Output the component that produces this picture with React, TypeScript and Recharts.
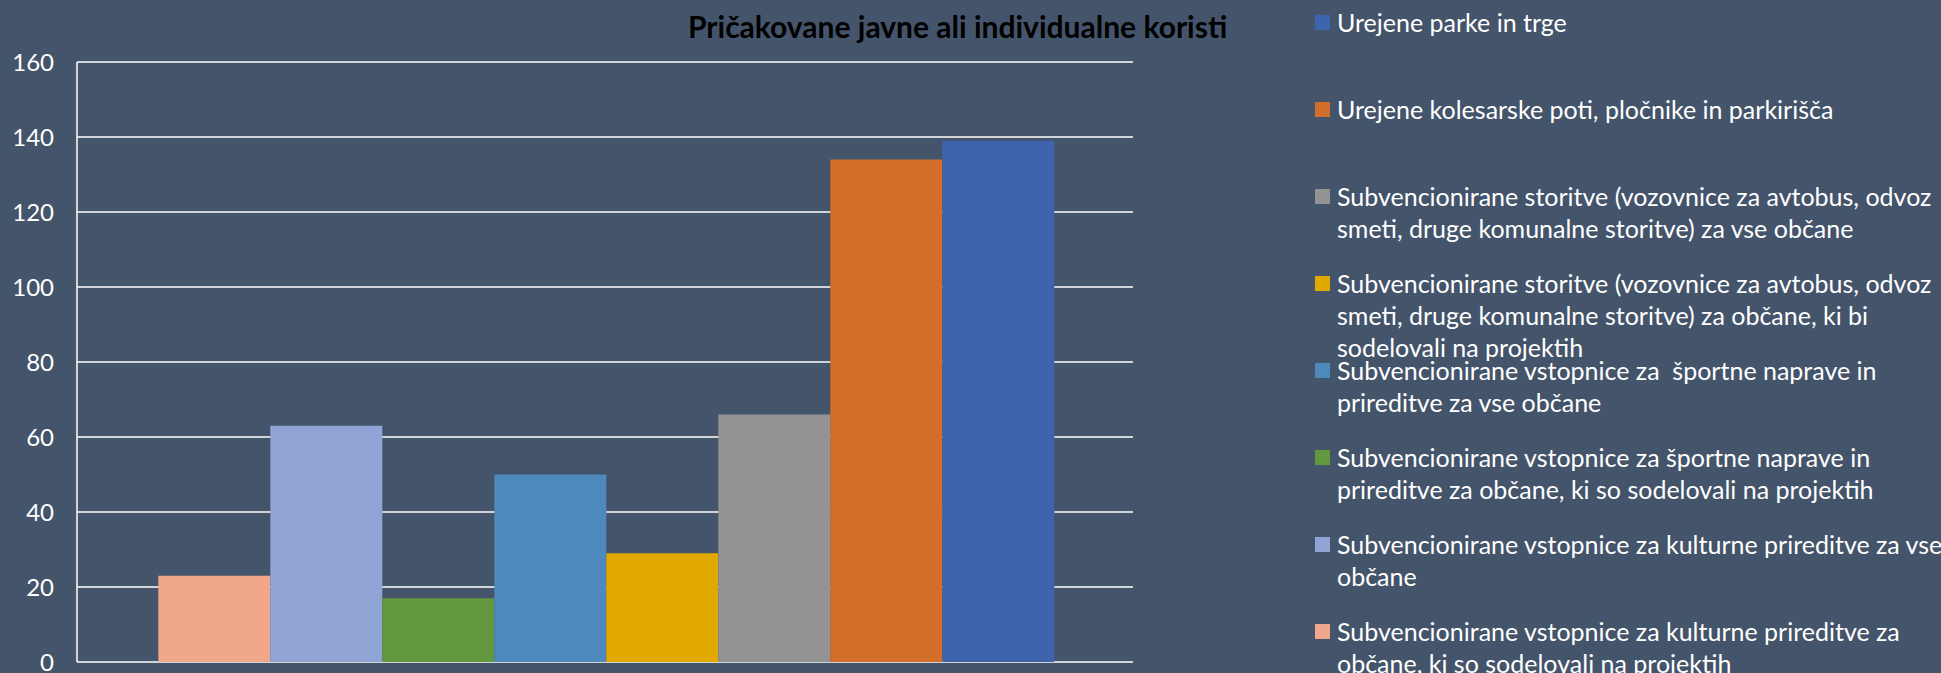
import { BarChart, Bar, XAxis, YAxis, CartesianGrid, Legend } from 'recharts';

const categories = [''];

// series in bar order (left to right)
const seriesKeys = ['s1', 's2', 's3', 's4', 's5', 's6', 's7', 's8'];
const seriesNames = [
  'Subvencionirane vstopnice za kulturne prireditve za\nobčane, ki so sodelovali na projektih',
  'Subvencionirane vstopnice za kulturne prireditve za vse\nobčane',
  'Subvencionirane vstopnice za športne naprave in\nprireditve za občane, ki so sodelovali na projektih',
  'Subvencionirane vstopnice za  športne naprave in\nprireditve za vse občane',
  'Subvencionirane storitve (vozovnice za avtobus, odvoz\nsmeti, druge komunalne storitve) za občane, ki bi\nsodelovali na projektih',
  'Subvencionirane storitve (vozovnice za avtobus, odvoz\nsmeti, druge komunalne storitve) za vse občane',
  'Urejene kolesarske poti, pločnike in parkirišča',
  'Urejene parke in trge',
];
const seriesValues = [23, 63, 17, 50, 29, 66, 134, 139];
const seriesColors = ['#F0A78B', '#90A4D5', '#62993E', '#4E89BD', '#E1A800', '#939393', '#D36E2A', '#3D64AC'];

const yTicks = [0, 20, 40, 60, 80, 100, 120, 140, 160];

const title = 'Pričakovane javne ali individualne koristi';

const data = categories.map((name) => {
  const row: Record<string, string | number> = { name };
  seriesKeys.forEach((k, i) => { row[k] = seriesValues[i]; });
  return row;
});

const FONT = 'Lato, "Open Sans", sans-serif';

function LegendList() {
  // Excel draws the legend in reverse series order
  const items = seriesKeys.map((k, i) => ({ k, name: seriesNames[i], color: seriesColors[i] })).reverse();
  return (
    <div style={{ fontFamily: FONT, fontSize: 25, color: '#fff' }}>
      {items.map(({ k, name, color }) => (
        <div key={k} style={{ height: 87, display: 'flex', alignItems: 'flex-start' }}>
          <div style={{ width: 15, height: 15, background: color, marginTop: 9, marginRight: 7, flexShrink: 0 }} />
          <div style={{ lineHeight: '32px', whiteSpace: 'pre' }}>{name}</div>
        </div>
      ))}
    </div>
  );
}

export default function App() {
  return (
    <div style={{ position: 'absolute', left: 0, top: 0, width: 1941, height: 673, background: '#44546A', overflow: 'hidden' }}>
      <div style={{ position: 'absolute', left: 688, top: 11, lineHeight: '30px', fontFamily: FONT, fontSize: 30, fontWeight: 700, color: '#000', whiteSpace: 'nowrap' }}>
        {title}
      </div>
      <BarChart
        width={1941}
        height={673}
        data={data}
        margin={{ top: 62, right: 182, bottom: 11, left: 17 }}
        barCategoryGap="7.7%"
        barGap={0}
      >
        <CartesianGrid horizontal vertical={false} stroke="#FFFFFF" strokeWidth={1.5} />
        <XAxis dataKey="name" hide />
        <YAxis
          width={60}
          domain={[0, 160]}
          ticks={yTicks}
          interval={0}
          axisLine={{ stroke: '#FFFFFF', strokeWidth: 1.5 }}
          tickLine={false}
          tickSize={0}
          tickMargin={23}
          tick={{ fill: '#FFFFFF', fontSize: 24, fontFamily: FONT }}
        />
        <Legend
          layout="vertical"
          align="right"
          verticalAlign="top"
          wrapperStyle={{ left: 1315, top: 6, width: 626 }}
          content={() => <LegendList />}
        />
        {seriesKeys.map((k, i) => (
          <Bar key={k} dataKey={k} name={seriesNames[i]} fill={seriesColors[i]} isAnimationActive={false} />
        ))}
      </BarChart>
    </div>
  );
}
